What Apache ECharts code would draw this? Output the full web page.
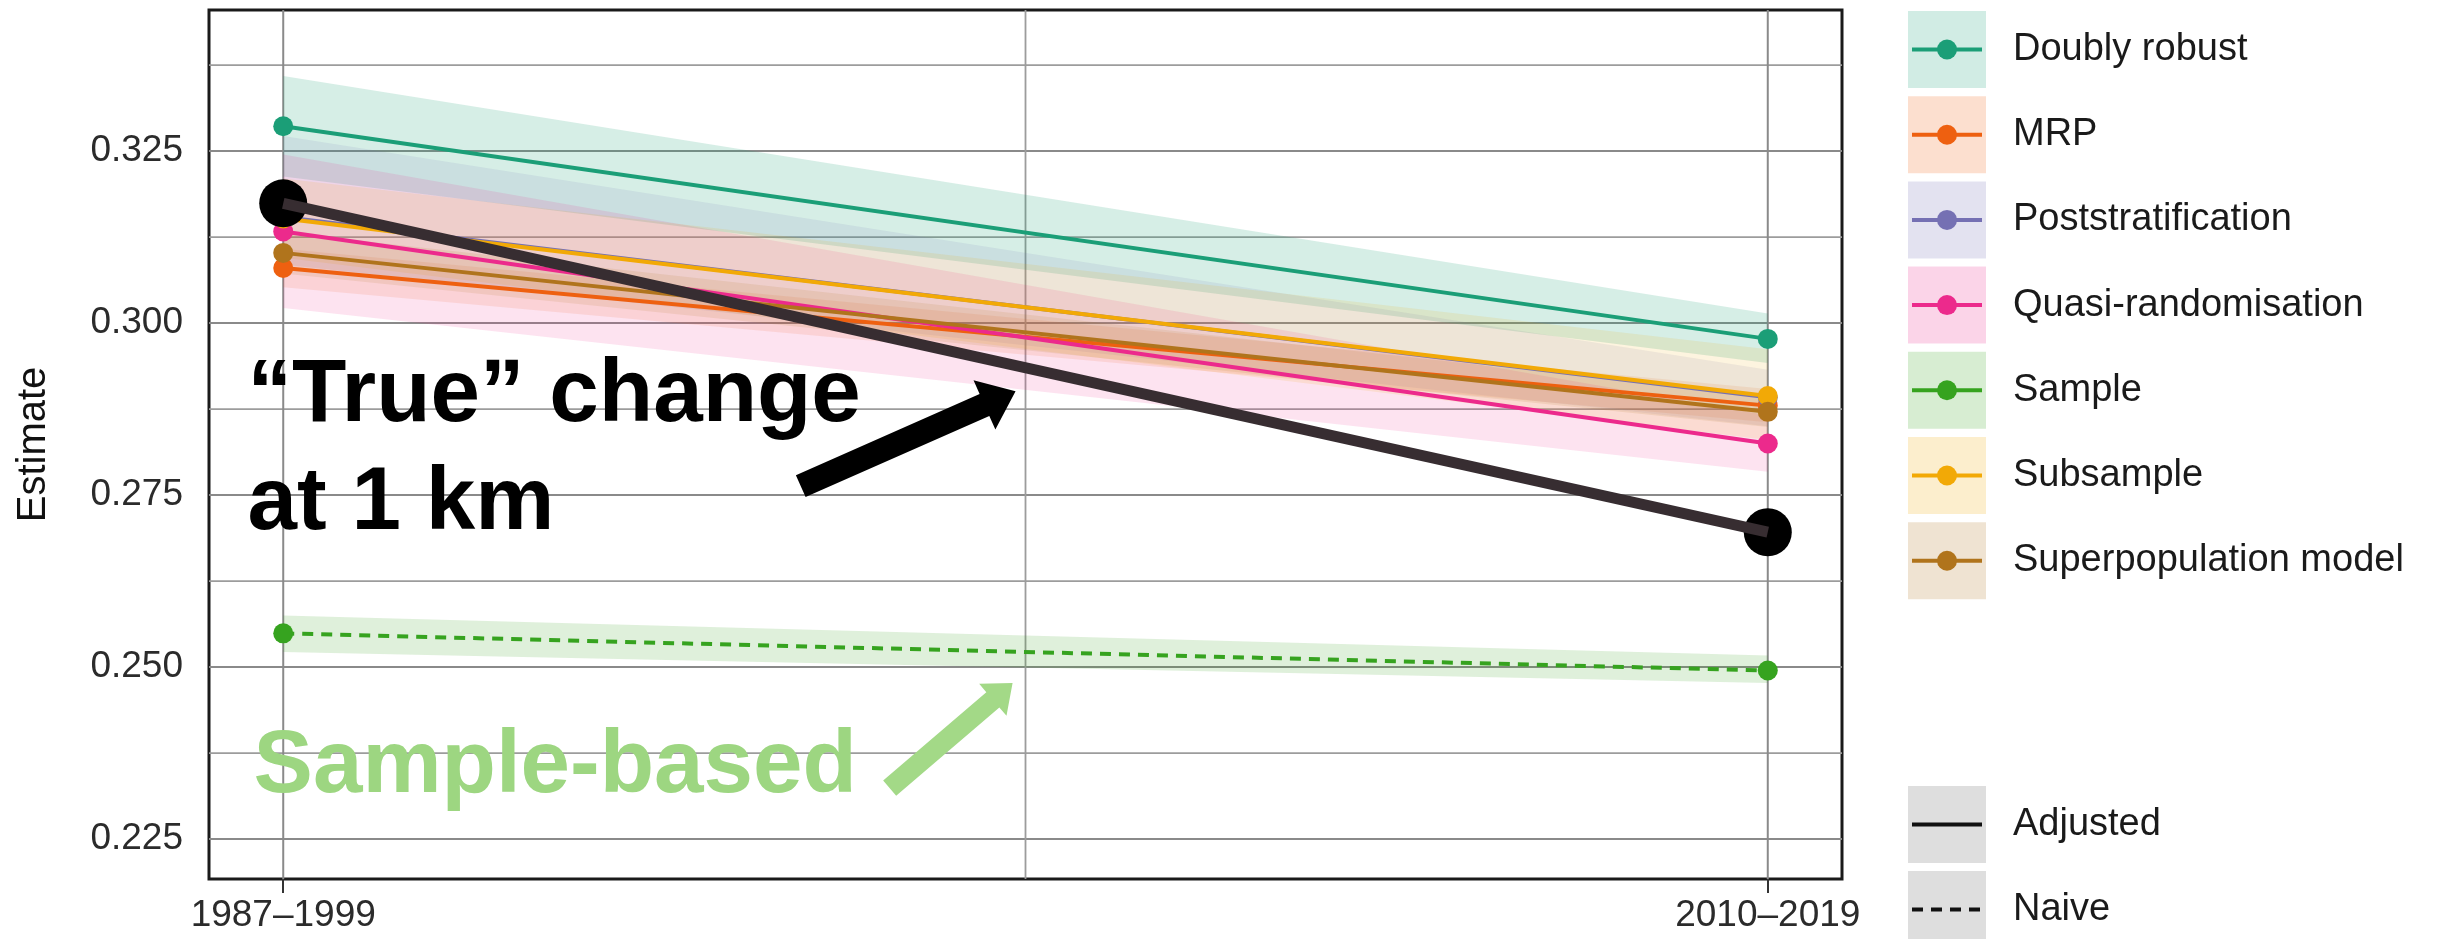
<!DOCTYPE html>
<html>
<head>
<meta charset="utf-8">
<script src="https://cdn.jsdelivr.net/npm/echarts@6/dist/echarts.min.js"></script>
<style>
  html, body { margin: 0; padding: 0; background: #ffffff; }
  #chart { width: 2440px; height: 939px; }
</style>
</head>
<body>
<div id="chart"></div>
<script>
// ---- data -------------------------------------------------------------
const periods = ['1987–1999', '2010–2019'];
const periodX = [0, 1];

const methods = ['Doubly robust', 'MRP', 'Poststratification', 'Quasi-randomisation',
                 'Sample', 'Subsample', 'Superpopulation model'];
const methodKind = ['Adjusted', 'Adjusted', 'Adjusted', 'Adjusted', 'Naive', 'Adjusted', 'Adjusted'];

// point estimates, first and second period
const estStart = [0.3286, 0.3080, 0.3154, 0.3133, 0.2549, 0.3152, 0.3102];
const estEnd   = [0.2977, 0.2880, 0.2892, 0.2825, 0.2495, 0.2894, 0.2871];
// interval bounds
const lowStart  = [0.3213, 0.3052, 0.3085, 0.3022, 0.2522, 0.3095, 0.3072];
const highStart = [0.3359, 0.3108, 0.3272, 0.3245, 0.2575, 0.3210, 0.3132];
const lowEnd    = [0.2942, 0.2856, 0.2850, 0.2784, 0.2477, 0.2830, 0.2849];
const highEnd   = [0.3014, 0.2904, 0.2932, 0.2866, 0.2517, 0.2962, 0.2893];

// population value ("true" change)
const trueValue = [0.3174, 0.2696];

const yTicks = [0.225, 0.250, 0.275, 0.300, 0.325];
const yMinor = [0.2375, 0.2625, 0.2875, 0.3125, 0.3375];
const xMinor = [0.5];

const lineKinds = ['Adjusted', 'Naive'];

// annotations (data coordinates; y is the text baseline)
const noteText = ['\u201CTrue\u201D change', 'at 1 km', 'Sample-based'];
const noteX = [-0.024, -0.024, -0.020];
const noteY = [0.2849, 0.2692, 0.2310];
const arrowFrom = [[0.3486, 0.2763], [0.4085, 0.2324]];
const arrowTo   = [[0.4933, 0.2901], [0.4913, 0.2477]];

// ---- styling ----------------------------------------------------------
const FONT = '"Liberation Sans", Arial, Helvetica, sans-serif';
const methodColors = ['#1B9E77', '#EE6010', '#7570B3', '#EC2A8C', '#36A31F', '#F2A906', '#B0741C'];
// band opacity per method (stacked bands in the middle are kept lighter)
const ribbonAlpha = [0.18, 0.12, 0.12, 0.13, 0.16, 0.13, 0.12];
const noteColors = ['#000000', '#000000', '#9DD681'];
const arrowStyles = [
  { color: '#000000', shaft: 24, headLen: 34, headW: 54 },
  { color: '#A3D987', shaft: 20, headLen: 26, headW: 42 }
];
const KEY_ALPHA = 0.2;

function rgba(hex, a) {
  const n = parseInt(hex.slice(1), 16);
  return 'rgba(' + ((n >> 16) & 255) + ',' + ((n >> 8) & 255) + ',' + (n & 255) + ',' + a + ')';
}

const chart = echarts.init(document.getElementById('chart'), null, { renderer: 'canvas' });

// grid lines: [orientation (0 horizontal / 1 vertical), value, major flag]
const gridData = []
  .concat(yTicks.map(v => [0, v, 1]))
  .concat(yMinor.map(v => [0, v, 0]))
  .concat(periodX.map(v => [1, v, 1]))
  .concat(xMinor.map(v => [1, v, 0]));

const gridSeries = {
  type: 'custom',
  silent: true,
  z: 1,
  data: gridData,
  encode: { x: -1, y: -1 },
  renderItem(params, api) {
    const cs = params.coordSys;
    const o = api.value(0), v = api.value(1), major = api.value(2);
    const style = { stroke: major ? '#8a8a8a' : '#9c9c9c', lineWidth: major ? 2 : 1.8 };
    if (o === 0) {
      const y = api.coord([0, v])[1];
      return { type: 'line', shape: { x1: cs.x, y1: y, x2: cs.x + cs.width, y2: y }, style };
    }
    const x = api.coord([v, 0.3])[0];
    return { type: 'line', shape: { x1: x, y1: cs.y, x2: x, y2: cs.y + cs.height }, style };
  }
};

const ribbonSeries = {
  type: 'custom',
  silent: true,
  z: 2,
  data: methods.map((m, i) => [periodX[0], lowStart[i], highStart[i], periodX[1], lowEnd[i], highEnd[i]]),
  encode: { x: [0, 3], y: [1, 2, 4, 5] },
  renderItem(params, api) {
    const a0 = api.coord([api.value(0), api.value(1)]);
    const b0 = api.coord([api.value(0), api.value(2)]);
    const a1 = api.coord([api.value(3), api.value(4)]);
    const b1 = api.coord([api.value(3), api.value(5)]);
    const i = params.dataIndex;
    return {
      type: 'polygon',
      shape: { points: [a0, a1, b1, b0] },
      style: { fill: rgba(methodColors[i], ribbonAlpha[i]) }
    };
  }
};

const methodSeries = methods.map((m, i) => ({
  type: 'line',
  name: m,
  z: 3,
  data: periodX.map((x, k) => [x, k === 0 ? estStart[i] : estEnd[i]]),
  symbol: 'circle',
  symbolSize: 20,
  showSymbol: true,
  itemStyle: { color: methodColors[i], opacity: 1 },
  lineStyle: {
    color: methodColors[i],
    width: 4,
    type: methodKind[i] === 'Naive' ? [11, 8] : 'solid'
  },
  emphasis: { disabled: true },
  animation: false
}));

const truePoints = {
  type: 'scatter',
  z: 4,
  data: periodX.map((x, k) => [x, trueValue[k]]),
  symbol: 'circle',
  symbolSize: 48,
  itemStyle: { color: '#000000', opacity: 1 },
  emphasis: { disabled: true },
  animation: false
};

const trueLine = {
  type: 'line',
  z: 5,
  data: periodX.map((x, k) => [x, trueValue[k]]),
  showSymbol: false,
  lineStyle: { color: '#372d31', width: 11, cap: 'butt' },
  emphasis: { disabled: true },
  animation: false
};

const arrowSeries = {
  type: 'custom',
  silent: true,
  z: 6,
  data: arrowFrom.map((f, i) => [f[0], f[1], arrowTo[i][0], arrowTo[i][1]]),
  encode: { x: [0, 2], y: [1, 3] },
  renderItem(params, api) {
    const st = arrowStyles[params.dataIndex];
    const p0 = api.coord([api.value(0), api.value(1)]);
    const p1 = api.coord([api.value(2), api.value(3)]);
    const dx = p1[0] - p0[0], dy = p1[1] - p0[1];
    const len = Math.hypot(dx, dy);
    const ux = dx / len, uy = dy / len;
    const nx = -uy, ny = ux;
    const bx = p1[0] - ux * st.headLen, by = p1[1] - uy * st.headLen;
    const s = st.shaft / 2, h = st.headW / 2;
    const pts = [
      [p0[0] + nx * s, p0[1] + ny * s],
      [bx + nx * s, by + ny * s],
      [bx + nx * h, by + ny * h],
      [p1[0], p1[1]],
      [bx - nx * h, by - ny * h],
      [bx - nx * s, by - ny * s],
      [p0[0] - nx * s, p0[1] - ny * s]
    ];
    return { type: 'polygon', shape: { points: pts }, style: { fill: st.color } };
  }
};

const NOTE_SIZE = 89;
const noteSeries = {
  type: 'custom',
  silent: true,
  z: 7,
  data: noteText.map((t, i) => [noteX[i], noteY[i]]),
  encode: { x: 0, y: 1 },
  renderItem(params, api) {
    const p = api.coord([api.value(0), api.value(1)]);
    return {
      type: 'text',
      x: p[0],
      y: p[1] - 0.3465 * NOTE_SIZE,
      style: {
        text: noteText[params.dataIndex],
        fill: noteColors[params.dataIndex],
        font: 'bold ' + NOTE_SIZE + 'px ' + FONT,
        align: 'left',
        verticalAlign: 'middle'
      }
    };
  }
};

// ---- legend (drawn as graphic elements) --------------------------------
const LEG_X = 1908, KEY_W = 78, KEY_H = 77, STEP = 85.2, TXT_X = 2013;
const legend = [];
methods.forEach((m, i) => {
  const top = 11 + i * STEP, cy = top + KEY_H / 2;
  legend.push({ type: 'rect', shape: { x: LEG_X, y: top, width: KEY_W, height: KEY_H }, style: { fill: rgba(methodColors[i], KEY_ALPHA) } });
  legend.push({ type: 'line', shape: { x1: LEG_X + 4, y1: cy, x2: LEG_X + KEY_W - 4, y2: cy }, style: { stroke: methodColors[i], lineWidth: 4 } });
  legend.push({ type: 'circle', shape: { cx: LEG_X + KEY_W / 2, cy: cy, r: 10 }, style: { fill: methodColors[i] } });
  legend.push({ type: 'text', x: TXT_X, y: cy, style: { text: m, font: '38px ' + FONT, fill: '#1a1a1a', align: 'left', verticalAlign: 'middle' } });
});
lineKinds.forEach((k, i) => {
  const top = 786 + i * 85, cy = top + KEY_H / 2;
  legend.push({ type: 'rect', shape: { x: LEG_X, y: top, width: KEY_W, height: KEY_H }, style: { fill: '#dedede' } });
  legend.push({ type: 'line', shape: { x1: LEG_X + 4, y1: cy, x2: LEG_X + KEY_W - 4, y2: cy },
                style: { stroke: '#111', lineWidth: 4, lineDash: k === 'Naive' ? [11, 8] : null } });
  legend.push({ type: 'text', x: TXT_X, y: cy, style: { text: k, font: '38px ' + FONT, fill: '#1a1a1a', align: 'left', verticalAlign: 'middle' } });
});

chart.setOption({
  animation: false,
  backgroundColor: '#ffffff',
  grid: {
    left: 209, right: 598, top: 10, bottom: 60,
    show: true, borderColor: '#1a1a1a', borderWidth: 3, backgroundColor: 'transparent'
  },
  xAxis: {
    type: 'value',
    min: -0.05, max: 1.05,
    axisLine: { show: false },
    splitLine: { show: false },
    axisTick: { show: true, length: 14, customValues: periodX, lineStyle: { color: '#333', width: 2 } },
    axisLabel: {
      customValues: periodX,
      formatter: v => periods[periodX.indexOf(v)] || '',
      fontSize: 37, fontFamily: FONT, color: '#2b2b2b', margin: 18
    }
  },
  yAxis: {
    type: 'value',
    min: 0.2192, max: 0.3455,
    axisLine: { show: false },
    splitLine: { show: false },
    axisTick: { show: true, length: 14, customValues: yTicks, lineStyle: { color: '#333', width: 2 } },
    axisLabel: {
      customValues: yTicks,
      formatter: v => v.toFixed(3),
      fontSize: 37, fontFamily: FONT, color: '#2b2b2b', margin: 26
    },
    name: 'Estimate',
    nameLocation: 'middle',
    nameGap: 155,
    nameTextStyle: { fontSize: 40, fontFamily: FONT, color: '#111' }
  },
  graphic: legend,
  series: [gridSeries, ribbonSeries].concat(methodSeries, [truePoints, trueLine, arrowSeries, noteSeries])
});
</script>
</body>
</html>
